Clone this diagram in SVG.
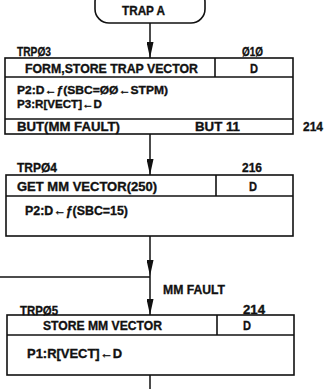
<svg xmlns="http://www.w3.org/2000/svg" width="328" height="389" viewBox="0 0 328 389">
<defs>
<style>
.t{font-family:"Liberation Sans",Arial,sans-serif;font-weight:bold;font-size:13px;fill:#111;stroke:#111;stroke-width:0.35}
.s{font-size:11.5px}
.b{fill:none;stroke:#111;stroke-width:1.6}
.c{fill:none;stroke:#111;stroke-width:1.5}
</style>
<marker id="arr" viewBox="0 0 16 7" refX="16" refY="3.5" markerWidth="16" markerHeight="7" markerUnits="userSpaceOnUse" orient="auto">
<path d="M0,0 L16,3.5 L0,7 Z" fill="#111"/>
</marker>
</defs>
<rect width="328" height="389" fill="#fff"/>

<g id="connectors">
<line class="c" x1="150" y1="23" x2="150" y2="58" marker-end="url(#arr)"/>
<line class="c" x1="150" y1="134" x2="150" y2="175" marker-end="url(#arr)"/>
<line class="c" x1="150" y1="236" x2="150" y2="276" marker-end="url(#arr)"/>
<line class="c" x1="0" y1="277" x2="150" y2="277"/>
<line class="c" x1="150" y1="276" x2="150" y2="315" marker-end="url(#arr)"/>
<line class="c" x1="150" y1="375" x2="150" y2="389"/>
<text class="t" x="163" y="294" textLength="62" lengthAdjust="spacingAndGlyphs">MM FAULT</text>
</g>

<g id="trap-a">
<rect class="b" x="95" y="-12" width="110" height="35" rx="14"/>
<text class="t" x="122" y="15" textLength="43" lengthAdjust="spacingAndGlyphs">TRAP A</text>
</g>

<g id="trp03">
<text class="t" x="17" y="56" textLength="34" lengthAdjust="spacingAndGlyphs">TRPØ3</text>
<text class="t" x="242" y="56" textLength="21" lengthAdjust="spacingAndGlyphs">Ø1Ø</text>
<rect class="b" x="5" y="58" width="288" height="76"/>
<line class="b" x1="5" y1="77" x2="293" y2="77"/>
<line class="b" x1="215" y1="58" x2="215" y2="77"/>
<line class="b" x1="5" y1="119" x2="293" y2="119"/>
<text class="t" x="25" y="73" textLength="173" lengthAdjust="spacingAndGlyphs">FORM,STORE TRAP VECTOR</text>
<text class="t" x="250" y="73" textLength="8" lengthAdjust="spacingAndGlyphs">D</text>
<text class="t s" x="17" y="94" textLength="151" lengthAdjust="spacingAndGlyphs">P2:D←ƒ(SBC=ØØ←STPM)</text>
<text class="t s" x="17" y="108" textLength="85" lengthAdjust="spacingAndGlyphs">P3:R[VECT]←D</text>
<text class="t" x="17" y="131" textLength="103" lengthAdjust="spacingAndGlyphs">BUT(MM FAULT)</text>
<text class="t" x="195" y="131" textLength="45" lengthAdjust="spacingAndGlyphs">BUT 11</text>
<text class="t" x="303" y="131" textLength="20" lengthAdjust="spacingAndGlyphs">214</text>
</g>

<g id="trp04">
<text class="t" x="17" y="172" textLength="40" lengthAdjust="spacingAndGlyphs">TRPØ4</text>
<text class="t" x="242" y="172" textLength="20" lengthAdjust="spacingAndGlyphs">216</text>
<rect class="b" x="6" y="175" width="287" height="61"/>
<line class="b" x1="6" y1="196" x2="293" y2="196"/>
<line class="b" x1="216" y1="175" x2="216" y2="196"/>
<text class="t" x="17" y="191" textLength="140" lengthAdjust="spacingAndGlyphs">GET MM VECTOR(250)</text>
<text class="t" x="249" y="191" textLength="8" lengthAdjust="spacingAndGlyphs">D</text>
<text class="t" x="25" y="215" textLength="103" lengthAdjust="spacingAndGlyphs">P2:D←ƒ(SBC=15)</text>
</g>

<g id="trp05">
<text class="t" x="20" y="315" textLength="38" lengthAdjust="spacingAndGlyphs">TRPØ5</text>
<text class="t" x="243" y="314" textLength="22" lengthAdjust="spacingAndGlyphs">214</text>
<rect class="b" x="7" y="315" width="287" height="60"/>
<line class="b" x1="7" y1="335" x2="294" y2="335"/>
<line class="b" x1="217" y1="315" x2="217" y2="335"/>
<text class="t" x="43" y="330" textLength="119" lengthAdjust="spacingAndGlyphs">STORE MM VECTOR</text>
<text class="t" x="243" y="330" textLength="8" lengthAdjust="spacingAndGlyphs">D</text>
<text class="t" x="27" y="358" textLength="95" lengthAdjust="spacingAndGlyphs">P1:R[VECT]←D</text>
</g>
</svg>
